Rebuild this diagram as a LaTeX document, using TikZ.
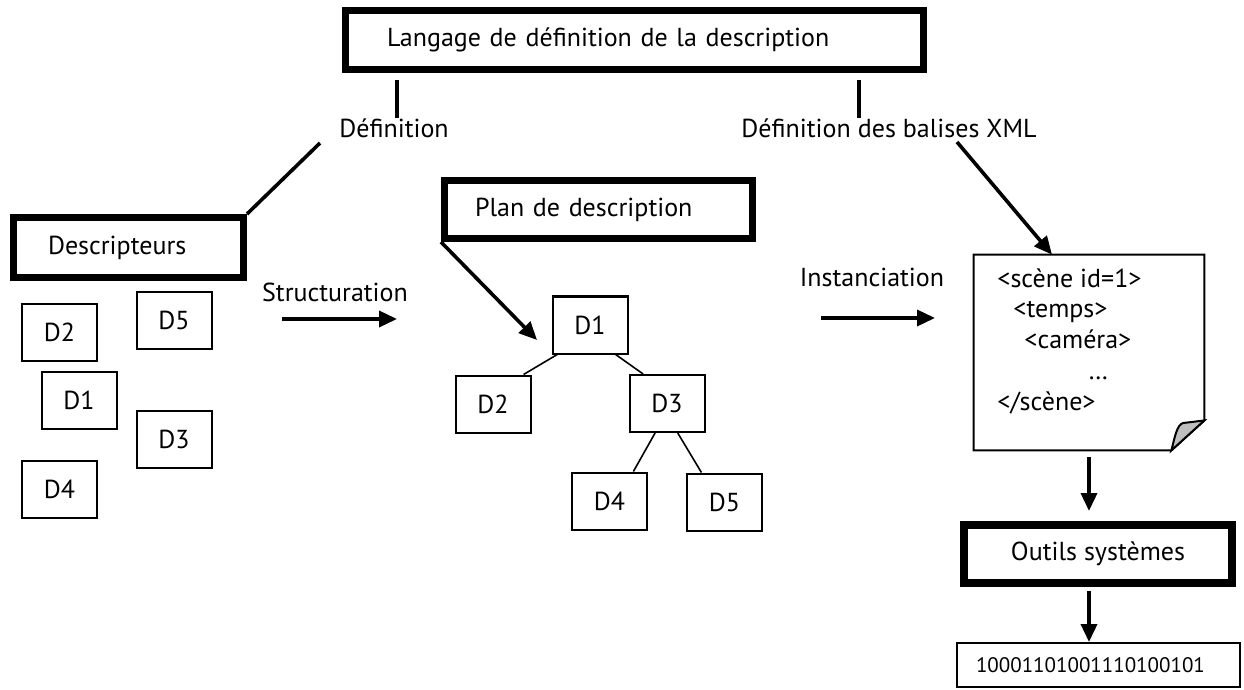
\documentclass[tikz,border=0pt]{standalone}
\usepackage{fontspec}
\setmainfont{PT Sans}
\usetikzlibrary{arrows.meta}

\tikzset{
	lbl/.style={inner sep=0pt, font=\fontsize{13}{15.4}\selectfont},
	cadre/.style={draw, line width=3.5pt, lbl, align=left},
	petit/.style={draw, line width=1pt, minimum width=37.5pt, minimum height=28.5pt, lbl},
	fleche/.style={line width=1.8pt, -{Triangle[length=9pt,width=8pt]}},
	trait/.style={line width=1.8pt},
	branche/.style={line width=0.8pt},
	feuille/.style={line width=1pt},
}

\begin{document}
\begin{tikzpicture}[x=0.5pt, y=-0.5pt]
	\useasboundingbox (0,0) rectangle (1244,690);

	% cadres
	\node[cadre, text width=247.5pt, inner xsep=20.75pt, minimum height=29.5pt] (lang) at (634.5,40) {Langage de définition de la description};
	\node[cadre, text width=80.5pt, inner xsep=17.25pt, minimum height=30pt] (desc) at (128.5,247.5) {Descripteurs};
	\node[cadre, text width=123.5pt, inner xsep=15.25pt, minimum height=29pt] (plan) at (598.5,209.5) {Plan de description};
	\node[cadre, line width=4pt, minimum width=134pt, minimum height=29pt] (outils) at (1098,554) {Outils systèmes};
	\node[draw, line width=1pt, lbl, font=\fontsize{10.5}{12}\selectfont, align=left, text width=122.5pt, inner xsep=9.5pt, minimum height=22pt] (bin) at (1098.5,665) {10001101001110100101};

	% etiquettes
	\node[lbl] (defA) at (394,128) {Définition};
	\node[lbl] (defB) at (889,128) {Définition des balises XML};
	\node[lbl] (struct) at (335,292) {Structuration};
	\node[lbl] (inst) at (872,277) {Instanciation};

	\draw[trait, shorten >=3.75pt] ([shift={(3,0)}]defA.north) -- ([shift={(3,0)}]defA.north |- lang.south);
	\draw[trait, shorten >=3.75pt] ([shift={(-30,0)}]defB.north) -- ([shift={(-30,0)}]defB.north |- lang.south);

	\coordinate (defApied) at (320,143);
	\coordinate (defBpied) at (957,142);
	\draw[trait] (defApied) -- (desc.north east);

	% descripteurs en vrac
	\node[petit] (sD2) at (59.5,332.5) {D2};
	\node[petit] (sD5) at (174,320.5) {D5};
	\node[petit] (sD1) at (79,400.5) {D1};
	\node[petit] (sD3) at (174,439.5) {D3};
	\node[petit] (sD4) at (59.5,489.5) {D4};

	\coordinate (stA) at (282,319);
	\coordinate (stB) at (397,319);
	\draw[fleche] (stA) -- (stB);

	% arbre
	\node[petit] (tD1) at (590,325) {D1};
	\node[petit] (tD2) at (493,404) {D2};
	\node[petit] (tD3) at (667,403.5) {D3};
	\node[petit] (tD4) at (609.5,501) {D4};
	\node[petit] (tD5) at (724.5,502) {D5};

	\draw[branche] (tD1.222) -- (tD2.44);
	\draw[branche] (tD1.311) -- (tD3.129);
	\draw[branche] (tD3.248) -- (tD4.51);
	\draw[branche] (tD3.290) -- (tD5.128);

	\draw[fleche] (plan.south west) -- ([shift={(-14.5,15)}]tD1.west);

	\coordinate (inA) at (821,318);
	\coordinate (inB) at (935,318);
	\draw[fleche] (inA) -- (inB);

	% document XML
	\node[minimum width=115pt, minimum height=97.5pt, inner sep=0pt] (xml) at (1089,352.5) {};
	\draw[feuille] (xml.north west) -- (xml.north east) -- ([shift={(0,-30)}]xml.south east) -- ([shift={(-33,0)}]xml.south east) -- (xml.south west) -- cycle;
	\draw[feuille, fill=gray!50] ([shift={(-33,0)}]xml.south east) .. controls (1175,436) and (1177,425) .. (1183,423) .. controls (1192,422) .. ([shift={(0,-30)}]xml.south east) -- cycle;
	\node[lbl, anchor=north west, align=left] (code) at (997,268) {<scène id=1>\\\hspace*{8pt}<temps>\\\hspace*{13.5pt}<caméra>\\\hspace*{45.5pt}…\\</scène>};

	\draw[fleche] (defBpied) -- ([shift={(-37,0)}]xml.north);
	\draw[fleche, shorten <=3.5pt, shorten >=5pt] (xml.south) -- (xml.south |- outils.north);
	\draw[fleche, shorten <=2pt] (outils.south -| xml.south) -- (xml.south |- bin.north);
\end{tikzpicture}
\end{document}
